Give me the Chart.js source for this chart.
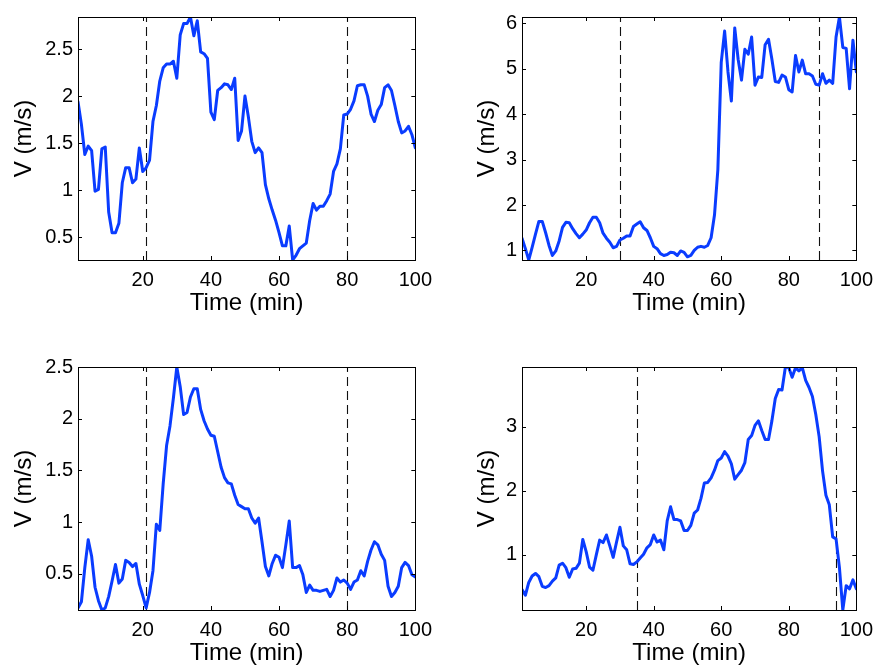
<!DOCTYPE html>
<html><head><meta charset="utf-8">
<script src="https://cdn.jsdelivr.net/npm/chart.js@4.4.1/dist/chart.umd.min.js"></script>
<style>
html,body{margin:0;padding:0;background:#fff;overflow:hidden;width:881px;height:668px;position:relative;}
canvas{position:absolute;display:block;}
</style></head><body>
<canvas id="c1" width="440" height="334" style="left:0;top:0"></canvas>
<canvas id="c2" width="441" height="334" style="left:440px;top:0"></canvas>
<canvas id="c3" width="440" height="334" style="left:0;top:350px"></canvas>
<canvas id="c4" width="441" height="334" style="left:440px;top:350px"></canvas>
<script>
// time axis (minutes 1..100)
const timeMin = Array.from({length: 100}, (_, i) => i + 1);
const xTickValues = [20, 40, 60, 80, 100];

// panel 1 (top-left)
const speed1 = [1.94,1.70,1.38,1.47,1.42,0.99,1.01,1.44,1.46,0.77,
  0.55,0.55,0.65,1.08,1.24,1.24,1.08,1.12,1.45,1.20,
  1.24,1.32,1.73,1.90,2.16,2.30,2.34,2.34,2.37,2.19,
  2.65,2.77,2.77,2.84,2.64,2.80,2.47,2.45,2.40,1.83,
  1.75,2.06,2.09,2.13,2.12,2.07,2.19,1.53,1.63,2.00,
  1.78,1.52,1.40,1.45,1.40,1.06,0.91,0.79,0.68,0.55,
  0.41,0.41,0.62,0.26,0.31,0.38,0.41,0.44,0.68,0.86,
  0.79,0.83,0.83,0.89,0.96,1.20,1.28,1.44,1.80,1.81,
  1.86,1.95,2.11,2.12,2.12,2.00,1.81,1.73,1.85,1.91,
  2.09,2.12,2.06,1.90,1.73,1.61,1.63,1.68,1.59,1.45];
const yTicks1 = [0.5, 1, 1.5, 2, 2.5];
const events1 = [21, 80];

// panel 2 (top-right)
const speed2 = [1.27,1.04,0.79,1.07,1.36,1.64,1.64,1.39,1.11,0.89,
  0.99,1.21,1.51,1.62,1.61,1.48,1.37,1.28,1.36,1.45,
  1.61,1.73,1.73,1.61,1.38,1.27,1.18,1.06,1.09,1.23,
  1.27,1.32,1.32,1.53,1.58,1.63,1.50,1.44,1.28,1.09,
  1.04,0.93,0.89,0.91,0.96,0.95,0.89,0.99,0.96,0.86,
  0.89,1.00,1.07,1.09,1.07,1.11,1.28,1.78,2.78,5.14,
  5.83,4.93,4.29,5.90,5.21,4.75,5.43,5.32,5.70,4.64,
  4.82,4.81,5.53,5.65,5.21,4.72,4.70,4.86,4.82,4.54,
  4.49,5.29,4.93,5.19,4.89,4.89,4.84,4.66,4.64,4.89,
  4.68,4.75,4.68,5.70,6.14,5.47,5.45,4.56,5.63,4.93];
const yTicks2 = [1, 2, 3, 4, 5, 6];
const events2 = [30, 89];

// panel 3 (bottom-left)
const speed3 = [0.17,0.23,0.56,0.83,0.67,0.37,0.24,0.15,0.17,0.28,
  0.43,0.59,0.41,0.45,0.63,0.61,0.57,0.60,0.40,0.29,
  0.17,0.32,0.53,0.98,0.92,1.37,1.74,1.93,2.20,2.50,
  2.31,2.04,2.06,2.21,2.29,2.29,2.09,1.98,1.90,1.84,
  1.83,1.68,1.53,1.43,1.38,1.37,1.26,1.17,1.15,1.13,
  1.13,1.04,0.99,1.04,0.81,0.57,0.48,0.60,0.68,0.66,
  0.56,0.78,1.01,0.56,0.56,0.58,0.49,0.32,0.39,0.34,
  0.34,0.33,0.34,0.35,0.28,0.34,0.46,0.42,0.44,0.41,
  0.35,0.42,0.44,0.53,0.48,0.62,0.73,0.81,0.78,0.69,
  0.63,0.38,0.28,0.32,0.38,0.56,0.61,0.58,0.49,0.47];
const yTicks3 = [0.5, 1, 1.5, 2, 2.5];
const events3 = [21, 80];

// panel 4 (bottom-right)
const speed4 = [0.46,0.37,0.57,0.67,0.71,0.66,0.51,0.49,0.52,0.59,
  0.64,0.84,0.87,0.80,0.65,0.78,0.79,0.87,1.24,1.05,
  0.81,0.76,1.00,1.23,1.19,1.31,1.14,0.96,1.20,1.43,
  1.14,1.08,0.86,0.85,0.89,0.95,1.01,1.11,1.16,1.31,
  1.20,1.23,1.08,1.53,1.75,1.55,1.55,1.53,1.38,1.38,
  1.46,1.65,1.70,1.88,2.12,2.13,2.20,2.32,2.47,2.51,
  2.61,2.54,2.42,2.18,2.25,2.32,2.44,2.80,2.86,3.02,
  3.09,2.94,2.80,2.80,3.09,3.44,3.58,3.57,3.93,3.92,
  3.77,3.92,3.87,3.92,3.72,3.61,3.47,3.19,2.84,2.31,
  1.93,1.78,1.28,1.25,0.80,0.14,0.52,0.47,0.61,0.47];
const yTicks4 = [1, 2, 3];
const events4 = [35, 94];

const FONT = "'Liberation Sans', Arial, Helvetica, sans-serif";
const LINE_COLOR = '#0a3cff';

const framePlugin = {
  id: 'frame',
  beforeDatasetsDraw(chart, args, opts) {
    const {ctx, chartArea: a, scales: {x}} = chart;
    ctx.save();
    ctx.strokeStyle = '#111';
    ctx.lineWidth = 1.1;
    ctx.setLineDash([9, 5]);
    for (const v of opts.marks) {
      const px = Math.round(x.getPixelForValue(v)) + 0.5;
      ctx.beginPath();
      ctx.moveTo(px, a.bottom);
      ctx.lineTo(px, a.top);
      ctx.stroke();
    }
    ctx.restore();
  },
  afterDatasetsDraw(chart) {
    const {ctx, chartArea: a, scales: {x, y}} = chart;
    const L = 4;
    ctx.save();
    ctx.strokeStyle = '#000';
    ctx.lineWidth = 1;
    ctx.beginPath();
    for (const t of x.ticks) {
      const px = Math.round(x.getPixelForValue(t.value)) + 0.5;
      ctx.moveTo(px, a.bottom); ctx.lineTo(px, a.bottom - L);
      ctx.moveTo(px, a.top); ctx.lineTo(px, a.top + L);
    }
    for (const t of y.ticks) {
      const py = Math.round(y.getPixelForValue(t.value)) + 0.5;
      ctx.moveTo(a.left, py); ctx.lineTo(a.left + L, py);
      ctx.moveTo(a.right, py); ctx.lineTo(a.right - L, py);
    }
    ctx.stroke();
    ctx.strokeRect(Math.round(a.left) + 0.5, Math.round(a.top) + 0.5,
      Math.round(a.right - a.left), Math.round(a.bottom - a.top));
    ctx.restore();
  }
};

function makePanel(id, values, yTicks, marks, yAxisWidth, padRight, yTitleOffset) {
  const points = timeMin.map((t, i) => ({x: t, y: values[i]}));
  return new Chart(document.getElementById(id), {
    type: 'line',
    data: {datasets: [{
      data: points,
      borderColor: LINE_COLOR,
      borderWidth: 3,
      pointRadius: 0,
      fill: false,
      tension: 0,
      borderJoinStyle: 'round',
      borderCapStyle: 'round',
      clip: 0
    }]},
    options: {
      responsive: false,
      animation: false,
      events: [],
      layout: {padding: {left: 0, top: 9, right: padRight, bottom: 0}},
      plugins: {legend: {display: false}, tooltip: {enabled: false}, frame: {marks: marks}},
      scales: {
        x: {
          type: 'linear', min: 1, max: 100,
          grid: {display: false, drawTicks: false, tickLength: 0},
          border: {display: false},
          afterBuildTicks: s => { s.ticks = xTickValues.map(v => ({value: v})); },
          afterFit: s => { s.height = 74; },
          ticks: {color: '#000', font: {family: FONT, size: 20}, padding: 8, maxRotation: 0, autoSkip: false},
          title: {display: true, text: 'Time (min)', color: '#000',
            font: {family: FONT, size: 24, lineHeight: 1}, padding: {top: 0, bottom: 19}}
        },
        y: {
          type: 'linear',
          min: Math.min(...values), max: Math.max(...values),
          grid: {display: false, drawTicks: false, tickLength: 0},
          border: {display: false},
          afterBuildTicks: s => { s.ticks = yTicks.map(v => ({value: v})); },
          afterFit: s => { s.width = yAxisWidth; },
          ticks: {color: '#000', font: {family: FONT, size: 20}, padding: 5,
            callback: v => String(v)},
          title: {display: true, text: 'V (m/s)', color: '#000',
            font: {family: FONT, size: 24, lineHeight: 1}, padding: {top: yTitleOffset, bottom: 0}}
        }
      }
    },
    plugins: [framePlugin]
  });
}

makePanel('c1', speed1, yTicks1, events1, 78, 24, 12);
makePanel('c2', speed2, yTicks2, events2, 82, 21, 35);
makePanel('c3', speed3, yTicks3, events3, 78, 24, 12);
makePanel('c4', speed4, yTicks4, events4, 82, 21, 35);
</script>
</body></html>
